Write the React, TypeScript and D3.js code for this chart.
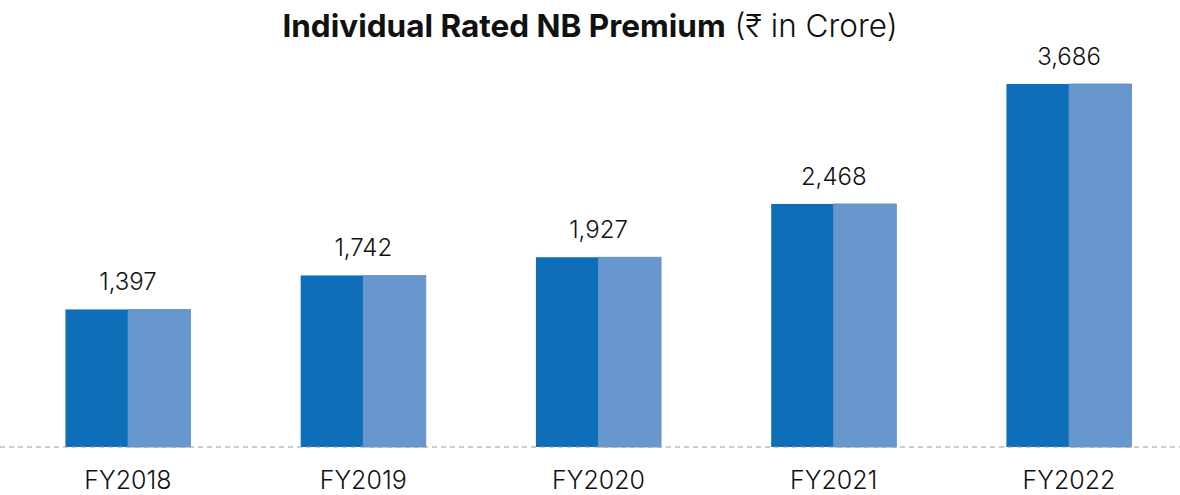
import React from "react";
import * as d3 from "d3";

const categories = ["FY2018", "FY2019", "FY2020", "FY2021", "FY2022"];
const values = [1397, 1742, 1927, 2468, 3686];
const valueLabels = ["1,397", "1,742", "1,927", "2,468", "3,686"];

const W = 1180;
const H = 495;
const baseY = 447;
const FONT = "Inter, 'Noto Sans', 'DejaVu Sans', sans-serif";

export default function App() {
  const x = d3.scalePoint<string>().domain(categories).range([128, 1069]);
  const step = x.step();
  const bw = step * 0.532;
  const y = d3.scaleLinear().domain([0, 3686]).range([baseY, 84]);

  return (
    <svg width={W} height={H} style={{ position: "absolute", left: 0, top: 0, background: "#fff" }} fontFamily={FONT}>
      <text x={590} y={37} textAnchor="middle" fontSize={31.5} fill="#111">
        <tspan fontWeight={700}>Individual Rated NB Premium</tspan>
        <tspan fontWeight={300}> (₹ in Crore)</tspan>
      </text>
      {categories.map((c, i) => {
        const cx = x(c)!;
        const top = y(values[i]);
        const h = baseY - top;
        return (
          <g key={c}>
            <rect x={cx - bw / 2} y={top} width={bw / 2} height={h} fill="#0E6FB8" />
            <rect x={cx} y={top} width={bw / 2} height={h} fill="#6897CE" stroke="#5b8ecb" strokeWidth={0.8} />
            <text x={cx} y={top - 19} textAnchor="middle" fontSize={24} fontWeight={300} fill="#111">
              {valueLabels[i]}
            </text>
            <text x={cx} y={489} textAnchor="middle" fontSize={25} fontWeight={300} fill="#111">
              {c}
            </text>
          </g>
        );
      })}
      <line x1={0} x2={W} y1={baseY} y2={baseY} stroke="#999" strokeWidth={1.2} strokeDasharray="5 4" />
    </svg>
  );
}
